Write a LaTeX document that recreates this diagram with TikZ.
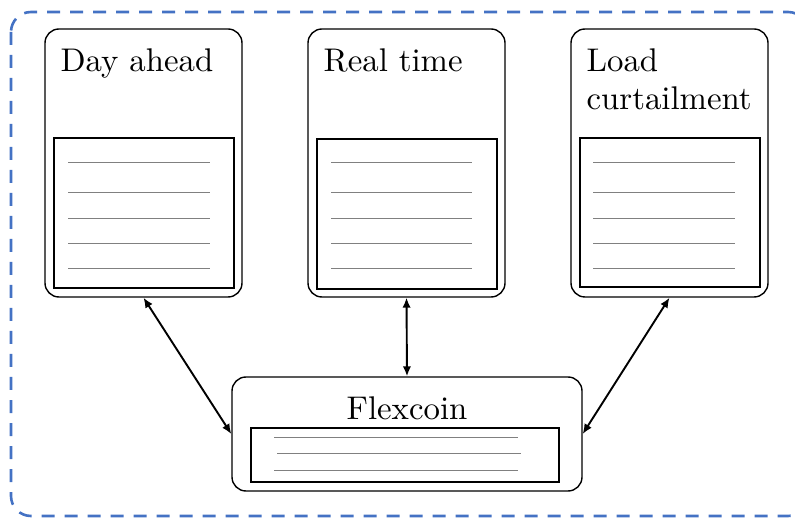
\documentclass[tikz,border=0pt]{standalone}
\usetikzlibrary{arrows.meta}
\definecolor{frameblue}{RGB}{68,114,196}
\begin{document}
\begin{tikzpicture}[x=1pt,y=-1pt,
  market/.style={draw,line width=1.4pt,rounded corners=14pt,minimum width=197pt,minimum height=268pt,inner sep=0pt},
  ledger/.style={draw,line width=1.4pt,inner sep=0pt},
  rowline/.style={draw=gray,line width=0.9pt},
  title/.style={font=\fontsize{10}{11.6}\selectfont,scale=3.28,transform shape,inner sep=0pt,align=left},
  link/.style={line width=1.9pt,{Latex[length=10pt,width=8.5pt]}-{Latex[length=10pt,width=8.5pt]}}]
\useasboundingbox (0,0) rectangle (795,518);
\clip (0,0) rectangle (795,518);
% outer dashed frame
\draw[frameblue,line width=2.6pt,dash pattern=on 13pt off 10pt,rounded corners=20pt] (11,12) rectangle (808,516);
% market boxes
\node[market] (da) at (143.5,163) {};
\node[market] (rt) at (406.5,163) {};
\node[market] (lc) at (669.5,163) {};
\node[title,anchor=base west] (dat) at (60,72) {Day ahead};
\node[title,anchor=base west] (rtt) at (323,72) {Real time};
\node[title,anchor=base west] (lct) at (586,110) {Load\\curtailment};
% ledgers inside market boxes
\node[ledger,minimum width=180pt,minimum height=150pt] (dal) at (144,213) {};
\node[ledger,minimum width=180pt,minimum height=150pt] (rtl) at (407,214) {};
\node[ledger,minimum width=180pt,minimum height=149pt] (lcl) at (670,212.5) {};
\foreach \y in {162,192,218,243,268}{
  \draw[rowline] (68,\y) -- (210,\y);
  \draw[rowline] (331,\y) -- (472,\y);
  \draw[rowline] (593,\y) -- (735,\y);
}
% flexcoin box
\node[market,minimum width=350pt,minimum height=114pt] (fx) at (407,434) {};
\node[title,anchor=base] (fxt) at (407,419) {Flexcoin};
\node[ledger,minimum width=308pt,minimum height=54pt] (fxl) at (405,455) {};
\draw[rowline] (274,437) -- (518,437);
\draw[rowline] (277,453) -- (521,453);
\draw[rowline] (274,470) -- (518,470);
% connections
\draw[link] (da.south) -- (fx.west);
\draw[link] (rt.south) -- (fx.north);
\draw[link] (lc.south) -- (fx.east);
\end{tikzpicture}
\end{document}
